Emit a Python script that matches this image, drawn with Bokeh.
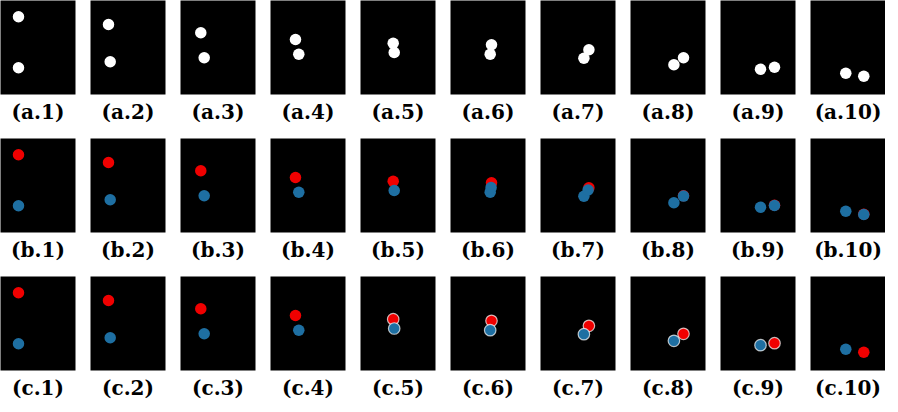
from bokeh.plotting import figure
from bokeh.layouts import gridplot
from bokeh.embed import file_html
from bokeh.resources import INLINE

# ---- data: dot centres inside each 75 x 94 frame (y measured downward) ----
row_names = ["a", "b", "c"]
steps = [1, 2, 3, 4, 5, 6, 7, 8, 9, 10]

# object A (upper-left at start, red in rows b/c)
a_x = [18.0, 18.0, 20.3, 25.0, 32.7, 41.0, 48.4, 53.0, 54.0, 53.3]
a_y = [16.3, 24.0, 32.3, 39.0, 42.7, 44.3, 49.3, 57.3, 66.7, 75.7]
# object B (lower-left at start, blue in rows b/c)
b_x = [18.0, 19.7, 23.7, 28.3, 33.7, 39.7, 43.4, 43.4, 40.0, 35.3]
b_y = [67.3, 61.3, 57.3, 53.7, 52.0, 53.7, 57.7, 64.3, 68.7, 72.7]
# row b: extra blue estimate that jumps onto object A (identity switch)
switch_steps = [6, 7, 8, 9, 10]
switch_x = [40.6, 47.6, 53.0, 54.0, 53.3]
switch_y = [49.0, 51.5, 57.6, 67.0, 76.0]
# row c: steps where both dots are drawn with a light outline
outlined_steps = [5, 6, 7, 8, 9]

RED = "#f00000"
BLUE = "#1e6fa2"
DOT = 11.5

figs = []
for r, row in enumerate(row_names):
    line = []
    for i, s in enumerate(steps):
        last_col = (i == len(steps) - 1)
        last_row = (r == len(row_names) - 1)
        p = figure(frame_width=75, frame_height=94,
                   x_range=(0, 75), y_range=(94, 0),
                   output_backend="svg", toolbar_location=None,
                   x_axis_location=None, y_axis_location=None,
                   min_border_left=0, min_border_right=0 if last_col else 15,
                   min_border_top=0, min_border_bottom=32 if last_row else 44,
                   background_fill_color="black", border_fill_color="white",
                   outline_line_color=None,
                   title=f"({row}.{s})", title_location="below")
        p.grid.visible = False
        p.title.align = "center"
        p.title.text_font = "DejaVu Serif"
        p.title.text_font_style = "bold"
        p.title.text_font_size = "20px"
        p.title.text_color = "black"
        p.title.standoff = 7
        k = i
        if row == "a":
            p.scatter([a_x[k], b_x[k]], [a_y[k], b_y[k]], size=DOT,
                      fill_color="white", line_color=None)
        elif row == "b":
            p.scatter([a_x[k]], [a_y[k]], size=DOT, fill_color=RED, line_color=None)
            p.scatter([b_x[k]], [b_y[k]], size=DOT, fill_color=BLUE, line_color=None)
            if s in switch_steps:
                j = switch_steps.index(s)
                p.scatter([switch_x[j]], [switch_y[j]], size=DOT,
                          fill_color=BLUE, line_color=None)
        else:
            outl = s in outlined_steps
            kw = dict(line_color="white", line_alpha=0.7, line_width=1.2) if outl else dict(line_color=None)
            p.scatter([a_x[k]], [a_y[k]], size=DOT, fill_color=RED, **kw)
            p.scatter([b_x[k]], [b_y[k]], size=DOT, fill_color=BLUE, **kw)
        line.append(p)
    figs.append(line)

grid = gridplot(figs, toolbar_location=None)

open("out.html", "w").write(file_html(grid, INLINE))
